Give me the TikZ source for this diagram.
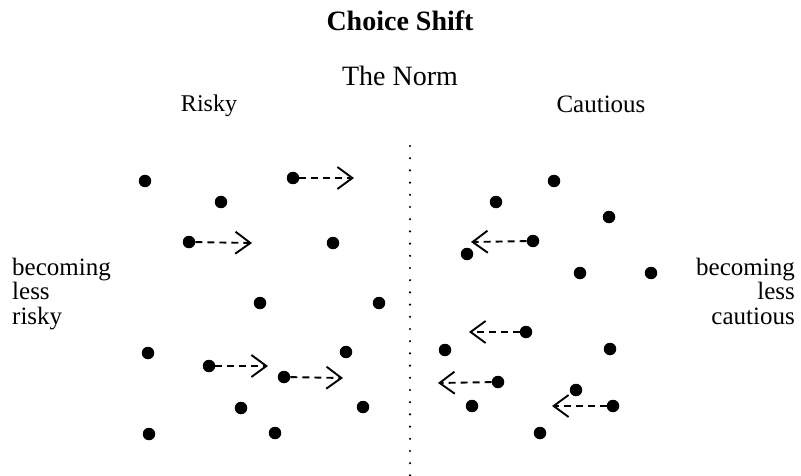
\documentclass[tikz,border=0pt]{standalone}
\usepackage{fontspec}
\setmainfont{Liberation Serif}
\usetikzlibrary{arrows.meta}
\begin{document}
\begin{tikzpicture}[x=1pt,y=-1pt,
  pt/.style={circle,fill=black,inner sep=0pt,minimum size=12.5pt},
  movearrow/.style={line width=1.9pt,dash pattern=on 7pt off 5pt,
    -{Straight Barb[length=15pt,width=22pt,line width=1.9pt]}},
  lbl/.style={inner sep=0pt,anchor=base,font=\fontsize{25}{25}\selectfont},
  big/.style={inner sep=0pt,anchor=base,font=\fontsize{28}{28}\selectfont}]
\useasboundingbox (0,0) rectangle (801,476);
% texts
\node[big,font=\fontsize{28}{28}\selectfont\bfseries] (title) at (400,31) {Choice Shift};
\node[big] (norm) at (400,86) {The Norm};
\node[lbl,font=\fontsize{24}{24}\selectfont] (risky) at (209,112) {Risky};
\node[lbl] (caut) at (601,113) {Cautious};
\node[lbl,anchor=base west,align=left] (lless) at (12,324)
  {becoming\\[-0.5pt]less\\[-0.5pt]risky};
\node[lbl,anchor=base east,align=right] (rless) at (795,324)
  {becoming\\[-0.5pt]less\\[-0.5pt]cautious};
% norm line
\coordinate (ntop) at (410,146);
\coordinate (nbot) at (410,476);
\draw[line width=2.4pt,line cap=round,dash pattern=on 0pt off 12.2pt] (ntop) -- (nbot);
% left dots
\node[pt] (l1) at (145,181) {};
\node[pt] (l2) at (221,202) {};
\node[pt] (l3) at (293,178) {};
\node[pt] (l4) at (189,242) {};
\node[pt] (l5) at (333,243) {};
\node[pt] (l6) at (260,303) {};
\node[pt] (l7) at (379,303) {};
\node[pt] (l8) at (148,353) {};
\node[pt] (l9) at (346,352) {};
\node[pt] (l10) at (209,366) {};
\node[pt] (l11) at (284,377) {};
\node[pt] (l12) at (241,408) {};
\node[pt] (l13) at (363,407) {};
\node[pt] (l14) at (149,434) {};
\node[pt] (l15) at (275,433) {};
% right dots
\node[pt] (r1) at (554,181) {};
\node[pt] (r2) at (496,202) {};
\node[pt] (r3) at (609,217) {};
\node[pt] (r4) at (533,241) {};
\node[pt] (r5) at (467,254) {};
\node[pt] (r6) at (580,273) {};
\node[pt] (r7) at (651,273) {};
\node[pt] (r8) at (526,332) {};
\node[pt] (r9) at (445,350) {};
\node[pt] (r10) at (610,349) {};
\node[pt] (r11) at (498,382) {};
\node[pt] (r12) at (576,390) {};
\node[pt] (r13) at (472,406) {};
\node[pt] (r14) at (613,406) {};
\node[pt] (r15) at (540,433) {};
% arrow tips
\coordinate (ta1) at (354,178);
\coordinate (ta2) at (252,243);
\coordinate (ta3) at (268,366);
\coordinate (ta4) at (343,378);
\coordinate (tb1) at (471,242);
\coordinate (tb2) at (469,332);
\coordinate (tb3) at (438,383);
\coordinate (tb4) at (552,406);
% shifts
\draw[movearrow] (l3) -- (ta1);
\draw[movearrow] (l4) -- (ta2);
\draw[movearrow] (l10) -- (ta3);
\draw[movearrow] (l11) -- (ta4);
\draw[movearrow] (r4) -- (tb1);
\draw[movearrow] (r8) -- (tb2);
\draw[movearrow] (r11) -- (tb3);
\draw[movearrow] (r14) -- (tb4);
\end{tikzpicture}
\end{document}
